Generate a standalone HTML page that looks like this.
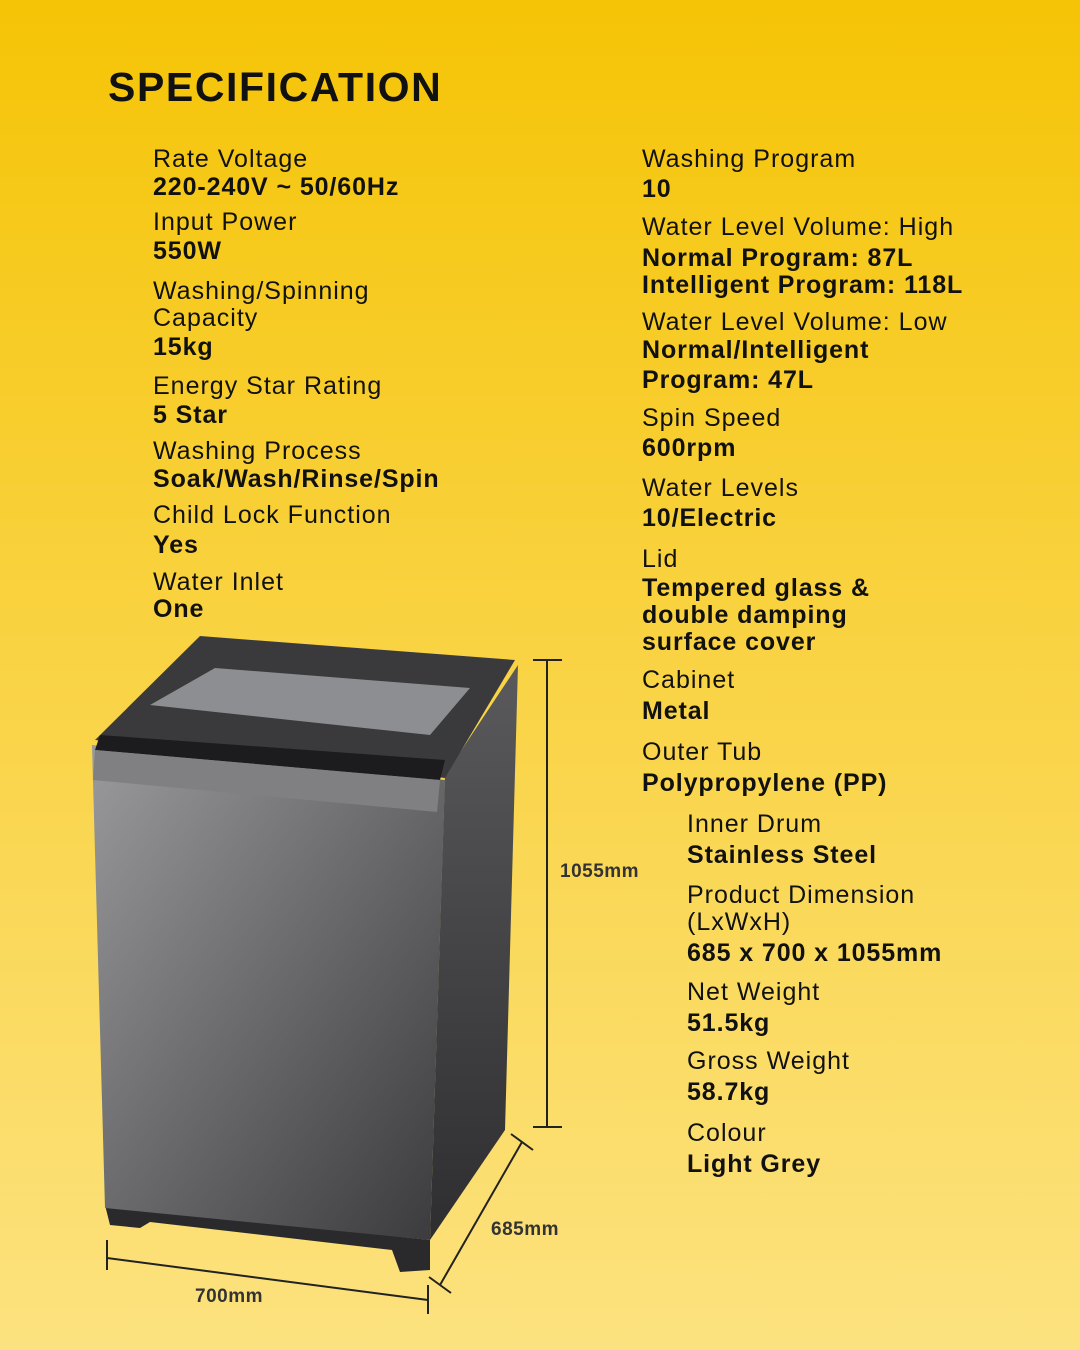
<!DOCTYPE html>
<html><head><meta charset="utf-8"><style>
body{margin:0;width:1080px;height:1350px;overflow:hidden;background:linear-gradient(180deg,#F5C406 0%,#F9D23F 45%,#FCE27F 100%);font-family:"Liberation Sans",sans-serif;color:#111;position:relative}
.t{position:absolute;left:108px;top:64px;font-size:41px;font-weight:bold;letter-spacing:1.6px}
.r,.b{position:absolute;font-size:25px;line-height:28px;white-space:nowrap}
.r{letter-spacing:1px}
.b{font-weight:bold;letter-spacing:0.9px}
.d{position:absolute;font-size:19px;font-weight:bold;color:#333;letter-spacing:0.5px}
</style></head><body>
<div class="t">SPECIFICATION</div>
<div class="r" style="left:153px;top:145px">Rate Voltage</div>
<div class="b" style="left:153px;top:173px">220-240V ~ 50/60Hz</div>
<div class="r" style="left:153px;top:208px">Input Power</div>
<div class="b" style="left:153px;top:237px">550W</div>
<div class="r" style="left:153px;top:277px">Washing/Spinning</div>
<div class="r" style="left:153px;top:304px">Capacity</div>
<div class="b" style="left:153px;top:333px">15kg</div>
<div class="r" style="left:153px;top:372px">Energy Star Rating</div>
<div class="b" style="left:153px;top:401px">5 Star</div>
<div class="r" style="left:153px;top:437px">Washing Process</div>
<div class="b" style="left:153px;top:465px">Soak/Wash/Rinse/Spin</div>
<div class="r" style="left:153px;top:501px">Child Lock Function</div>
<div class="b" style="left:153px;top:531px">Yes</div>
<div class="r" style="left:153px;top:568px">Water Inlet</div>
<div class="b" style="left:153px;top:595px">One</div>

<div class="r" style="left:642px;top:145px">Washing Program</div>
<div class="b" style="left:642px;top:175px">10</div>
<div class="r" style="left:642px;top:213px">Water Level Volume: High</div>
<div class="b" style="left:642px;top:244px">Normal Program: 87L</div>
<div class="b" style="left:642px;top:271px">Intelligent Program: 118L</div>
<div class="r" style="left:642px;top:308px">Water Level Volume: Low</div>
<div class="b" style="left:642px;top:336px">Normal/Intelligent</div>
<div class="b" style="left:642px;top:366px">Program: 47L</div>
<div class="r" style="left:642px;top:404px">Spin Speed</div>
<div class="b" style="left:642px;top:434px">600rpm</div>
<div class="r" style="left:642px;top:474px">Water Levels</div>
<div class="b" style="left:642px;top:504px">10/Electric</div>
<div class="r" style="left:642px;top:545px">Lid</div>
<div class="b" style="left:642px;top:574px">Tempered glass &amp;</div>
<div class="b" style="left:642px;top:601px">double damping</div>
<div class="b" style="left:642px;top:628px">surface cover</div>
<div class="r" style="left:642px;top:666px">Cabinet</div>
<div class="b" style="left:642px;top:697px">Metal</div>
<div class="r" style="left:642px;top:738px">Outer Tub</div>
<div class="b" style="left:642px;top:769px">Polypropylene (PP)</div>

<div class="r" style="left:687px;top:810px">Inner Drum</div>
<div class="b" style="left:687px;top:841px">Stainless Steel</div>
<div class="r" style="left:687px;top:881px">Product Dimension</div>
<div class="r" style="left:687px;top:908px">(LxWxH)</div>
<div class="b" style="left:687px;top:939px">685 x 700 x 1055mm</div>
<div class="r" style="left:687px;top:978px">Net Weight</div>
<div class="b" style="left:687px;top:1009px">51.5kg</div>
<div class="r" style="left:687px;top:1047px">Gross Weight</div>
<div class="b" style="left:687px;top:1078px">58.7kg</div>
<div class="r" style="left:687px;top:1119px">Colour</div>
<div class="b" style="left:687px;top:1150px">Light Grey</div>

<svg width="1080" height="1350" style="position:absolute;left:0;top:0">
<defs>
<linearGradient id="f" x1="0" y1="0" x2="1" y2="1"><stop offset="0" stop-color="#9a9a9c"/><stop offset="0.5" stop-color="#6a6a6c"/><stop offset="1" stop-color="#3a3a3c"/></linearGradient>
<linearGradient id="s" x1="0" y1="0" x2="0" y2="1"><stop offset="0" stop-color="#5a5a5c"/><stop offset="1" stop-color="#2e2e30"/></linearGradient>
</defs>
<polygon points="445,775 518,665 505,1130 430,1240" fill="url(#s)"/>
<polygon points="105,1205 430,1240 430,1270 400,1272 392,1250 150,1222 140,1228 110,1225" fill="#2a2a2c"/>
<polygon points="92,745 445,780 430,1240 105,1208" fill="url(#f)"/>
<polygon points="95,740 200,636 515,660 445,778" fill="#3a3a3c"/>
<polygon points="150,705 215,668 470,688 430,735" fill="#8c8e92"/>
<polygon points="100,735 445,760 440,780 95,750" fill="#1c1c1e"/>
<polygon points="95,750 440,780 437,812 93,780" fill="#808083"/>
<g stroke="#222" stroke-width="2" fill="none">
<line x1="547" y1="660" x2="547" y2="1127"/><line x1="533" y1="660" x2="562" y2="660"/><line x1="533" y1="1127" x2="562" y2="1127"/>
<line x1="522" y1="1142" x2="440" y2="1285"/><line x1="511" y1="1134" x2="533" y2="1150"/><line x1="429" y1="1277" x2="451" y2="1293"/>
<line x1="107" y1="1258" x2="428" y2="1300"/><line x1="107" y1="1240" x2="107" y2="1270"/><line x1="428" y1="1285" x2="428" y2="1314"/>
</g>
</svg>
<div class="d" style="left:560px;top:861px">1055mm</div>
<div class="d" style="left:491px;top:1219px">685mm</div>
<div class="d" style="left:195px;top:1286px">700mm</div>
</body></html>
